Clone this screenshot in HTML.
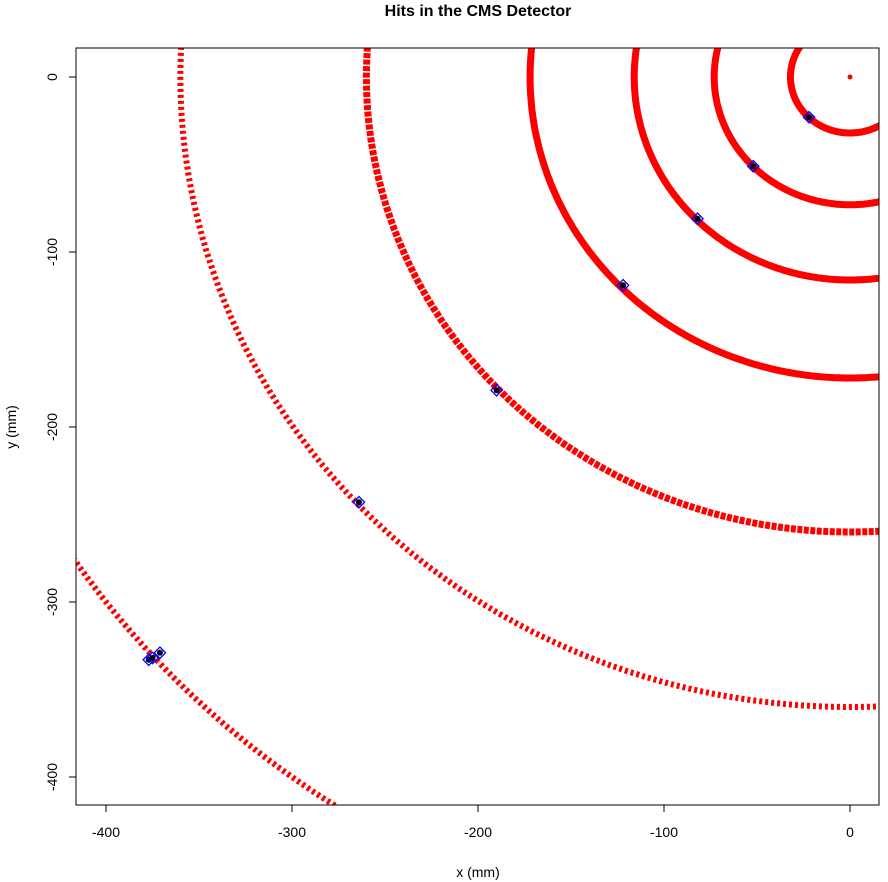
<!DOCTYPE html>
<html><head><meta charset="utf-8"><style>
html,body{margin:0;background:#fff;overflow:hidden;width:888px;height:882px}
svg{display:block;font-family:"Liberation Sans",sans-serif}
</style></head><body>
<svg width="888" height="882">
<defs><clipPath id="pc"><rect x="76" y="48" width="803" height="757"/></clipPath></defs>
<text x="478" y="16" text-anchor="middle" font-weight="bold" font-size="16">Hits in the CMS Detector</text>
<g id="plot" clip-path="url(#pc)"></g>
<rect x="76" y="48" width="803" height="757" fill="none" stroke="#000"/>
<g id="axes" font-size="14"></g>
<text x="478" y="877" text-anchor="middle" font-size="14">x (mm)</text>
<text transform="translate(16,427) rotate(-90)" text-anchor="middle" font-size="14">y (mm)</text>
</svg>
<script>
const layerRadii=[32,73,116,172,260,360,500];
const layerStyle=["solid","solid","solid","solid","dense","sparse","sparse"];
const trackX=[-22,-52,-82,-122,-190,-264,-377,-371,-375];
const trackY=[-23,-51,-81,-119,-179,-243,-333,-329,-332];
const xTicks=[-400,-300,-200,-100,0];
const yTicks=[0,-100,-200,-300,-400];
const NS="http://www.w3.org/2000/svg";
const sx=x=>850+1.86*x, sy=y=>77-1.75*y;
const plot=document.getElementById('plot'), axes=document.getElementById('axes');
function mk(t,a,p){const e=document.createElementNS(NS,t);for(const k in a)e.setAttribute(k,a[k]);(p||plot).appendChild(e);return e;}
layerRadii.forEach((r,i)=>{
  let d="";
  for(let a=120;a<=300;a+=0.5){const t=a*Math.PI/180;d+=(a===120?"M":"L")+sx(r*Math.cos(t)).toFixed(1)+","+sy(r*Math.sin(t)).toFixed(1);}
  const st=layerStyle[i];
  const p=mk('path',{d:d,fill:'none',stroke:'#f00','stroke-width':st==="solid"?7:(st==="dense"?7:6),'stroke-dasharray':st==="solid"?"none":(st==="dense"?"5 1.5":"3 3")});
  
  
});
const o=mk('circle',{cx:sx(0),cy:sy(0),r:2.5,fill:'#f00'});


trackX.forEach((x,i)=>{
  const cx=sx(x),cy=sy(trackY[i]);
  const g=mk('g',{});
  
  
  mk('rect',{x:cx-4,y:cy-4,width:8,height:8,fill:'none',stroke:'#00f','stroke-width':1.3,transform:`rotate(45 ${cx} ${cy})`},g);
  mk('circle',{cx:cx,cy:cy,r:3,fill:'#000'},g);
});
xTicks.forEach(v=>{
  const x=sx(v);
  const l=mk('line',{x1:x,x2:x,y1:805,y2:812,stroke:'#000'},axes);
  
  
  const t=mk('text',{x:x,y:837,'text-anchor':'middle'},axes);t.textContent=v;
  
  
});
yTicks.forEach(v=>{
  const y=sy(v);
  const l=mk('line',{x1:69,x2:76,y1:y,y2:y,stroke:'#000'},axes);
  
  
  const t=mk('text',{transform:`translate(57,${y}) rotate(-90)`,'text-anchor':'middle'},axes);t.textContent=v;
  
  
});
</script>
</body></html>
